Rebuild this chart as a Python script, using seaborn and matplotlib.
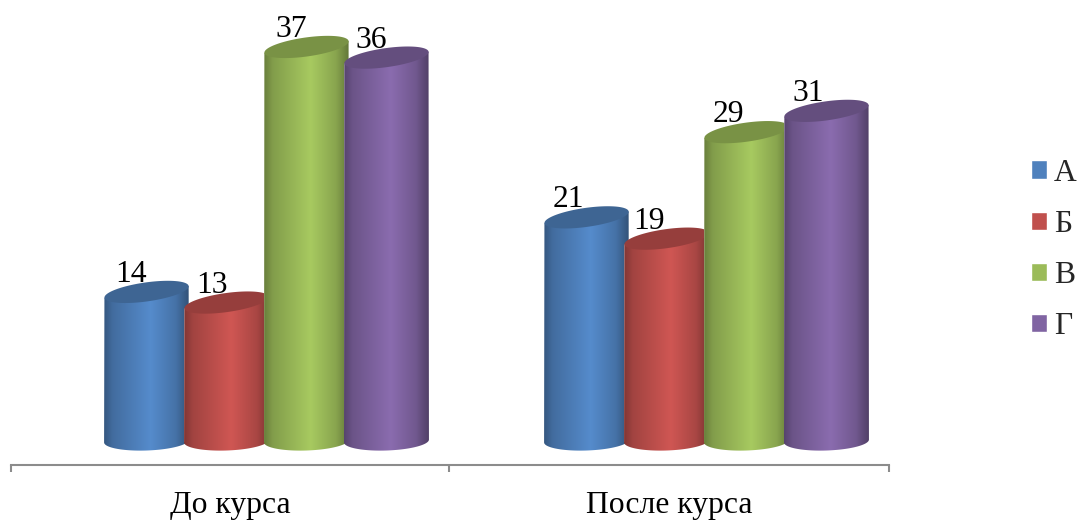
import numpy as np
import pandas as pd
import matplotlib
matplotlib.use("Agg")
import matplotlib.pyplot as plt
from matplotlib.patches import Polygon
from matplotlib.colors import to_rgb
import seaborn as sns

groups = ["До курса", "После курса"]
series = ["А", "Б", "В", "Г"]
values_a = [14, 21]
values_b = [13, 19]
values_v = [37, 29]
values_g = [36, 31]
colors = ["#4F81BD", "#C0504D", "#9BBB59", "#8064A2"]

df = pd.DataFrame({
    "group": groups * 4,
    "series": np.repeat(series, 2),
    "value": values_a + values_b + values_v + values_g,
})

sns.set_style("white")
plt.rcParams["font.family"] = ["Liberation Serif", "DejaVu Serif"]
font_size = 22.8

W, H = 1079, 520
fig = plt.figure(figsize=(W / 100, H / 100), dpi=100)
ax = fig.add_axes([11 / W, (H - 465) / H, 878 / W, 465 / H])
sns.barplot(data=df, x="group", y="value", hue="series", palette=colors,
            width=0.727, saturation=1, dodge=True, ax=ax)

# pixels per data unit, everything below is sized in pixels
px_x = 440.0
px_y = 10.65
ax.set_xlim(-253 / px_x, 625 / px_x)
ax.set_ylim(-24 / px_y, 441 / px_y)

half_w = 42.5
half_h = 9.5
top_tilt = np.deg2rad(8)
base_tilt = np.deg2rad(2)
label_shift = [-15, -18]


def ellipse(cx, cy, t, tilt):
    x = half_w * np.cos(t) * np.cos(tilt) - half_h * np.sin(t) * np.sin(tilt)
    y = half_w * np.cos(t) * np.sin(tilt) + half_h * np.sin(t) * np.cos(tilt)
    return np.column_stack([cx + x / px_x, cy + y / px_y])


def side_gradient(color):
    u = np.linspace(0, 1, 128)
    shade = np.interp(u, [0, 0.1, 0.55, 0.85, 1], [0.68, 0.84, 1.08, 0.88, 0.64])
    return np.clip(np.outer(shade, to_rgb(color)), 0, 1)[None, :, :]


for i, container in enumerate(ax.containers):
    for j, bar in enumerate(container):
        left = bar.get_x()
        val = bar.get_height()
        cx = left + half_w / px_x
        z = 3 + i
        t_low = np.linspace(np.pi, 2 * np.pi, 60)
        body = np.vstack([ellipse(cx, 0, t_low, base_tilt),
                          ellipse(cx, val, t_low[::-1][[0, -1]], top_tilt)])
        shape = Polygon(body, closed=True, fc="none", ec="none", transform=ax.transData)
        ax.add_patch(shape)
        bar.set_clip_path(shape)
        bar.set_zorder(z)
        im = ax.imshow(side_gradient(colors[i]), aspect="auto", zorder=z, interpolation="bilinear",
                       extent=[cx - half_w / px_x, cx + half_w / px_x, -2, val + 2])
        im.set_clip_path(shape)
        cap_color = np.array(to_rgb(colors[i])) * 0.78
        ax.add_patch(Polygon(ellipse(cx, val, np.linspace(0, 2 * np.pi, 100), top_tilt), closed=True,
                             fc=cap_color, ec="none", zorder=z))
        ax.annotate(str(int(val)), (cx, val), xytext=(label_shift[j], 3), textcoords="offset pixels",
                    ha="center", va="bottom", fontsize=font_size, color="black", zorder=10)

ax.set_xlim(-253 / px_x, 625 / px_x)
ax.set_ylim(-24 / px_y, 441 / px_y)

# axis line with ticks between the groups, labels sit off the bar centres
sns.despine(ax=ax, left=True, top=True, right=True)
ax.spines["bottom"].set_color("#8C8C8C")
ax.spines["bottom"].set_linewidth(1.5)
ax.set_yticks([])
ax.set_xticks([-253 / px_x, 185 / px_x, 625 / px_x], labels=["", "", ""])
ax.set_xticks([-34 / px_x, 405 / px_x], labels=groups, minor=True)
ax.tick_params(axis="x", which="major", bottom=True, length=5, width=1.5, color="#8C8C8C")
ax.tick_params(axis="x", which="minor", bottom=False, length=0, pad=18.5, labelsize=font_size, labelcolor="black")
ax.set_xlabel("")
ax.set_ylabel("")

sns.move_legend(ax, "center left", bbox_to_anchor=(1031 / W, (H - 250) / H),
                bbox_transform=fig.transFigure, frameon=False, title=None,
                fontsize=font_size, handlelength=0.505, handleheight=0.505,
                labelspacing=0.70, handletextpad=0.22, borderpad=0, borderaxespad=0)

fig.savefig("out.png", dpi=100)
